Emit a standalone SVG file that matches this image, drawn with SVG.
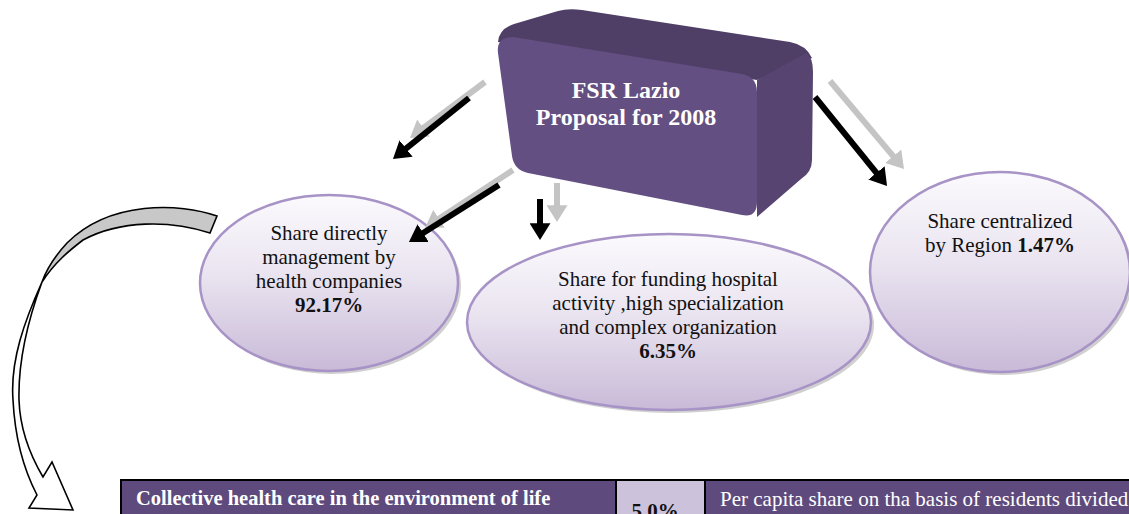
<svg xmlns="http://www.w3.org/2000/svg" width="1129" height="514" viewBox="0 0 1129 514">
  <style>
    .t { font-family: "Liberation Serif", "Times New Roman", serif; font-size: 21px; fill: #111; text-anchor: middle; }
    .b { font-weight: bold; }
    .title { font-family: "Liberation Serif", "Times New Roman", serif; font-size: 24px; font-weight: bold; fill: #ffffff; text-anchor: middle; }
    .bubble { fill: url(#bubbleFill); stroke: #a793c6; stroke-width: 2.5; }
    .shadow { fill: #a9a9a9; opacity: 0.55; }
    .blk { stroke: #000; stroke-width: 6; fill: none; marker-end: url(#headBlack); }
    .gry { stroke: #c4c4c4; stroke-width: 6; fill: none; marker-end: url(#headGrey); }
    .cellDark { fill: #5e4a7c; }
    .cellLight { fill: #cdc2dc; }
    .tw { font-family: "Liberation Serif", "Times New Roman", serif; font-size: 21px; fill: #ffffff; }
  </style>
  <defs>
    <linearGradient id="bubbleFill" x1="0" y1="0" x2="0" y2="1">
      <stop offset="0" stop-color="#fbfafd"/>
      <stop offset="0.45" stop-color="#eae4f0"/>
      <stop offset="1" stop-color="#c9bad8"/>
    </linearGradient>
    <marker id="headBlack" viewBox="0 0 8 10" refX="2" refY="5" markerWidth="2.8" markerHeight="3.5" orient="auto">
      <path d="M0,0 L8,5 L0,10 Z" fill="#000"/>
    </marker>
    <marker id="headGrey" viewBox="0 0 8 10" refX="2" refY="5" markerWidth="2.8" markerHeight="3.5" orient="auto">
      <path d="M0,0 L8,5 L0,10 Z" fill="#c4c4c4"/>
    </marker>
  </defs>

  <rect width="1129" height="514" fill="#ffffff"/>

  <!-- share managed by health companies -->
  <g id="node-health-companies">
    <ellipse class="shadow" cx="332" cy="286" rx="129" ry="88"/>
    <ellipse class="bubble" cx="329" cy="283" rx="129" ry="88"/>
    <text class="t" x="329" y="240">Share directly</text>
    <text class="t" x="329" y="264">management by</text>
    <text class="t" x="329" y="288">health companies</text>
    <text class="t b" x="329" y="312">92.17%</text>
  </g>

  <!-- share for hospital activity -->
  <g id="node-hospital">
    <ellipse class="shadow" cx="672" cy="325" rx="202" ry="88"/>
    <ellipse class="bubble" cx="669" cy="322" rx="202" ry="88"/>
    <text class="t" x="668" y="286">Share for funding hospital</text>
    <text class="t" x="668" y="310">activity ,high specialization</text>
    <text class="t" x="668" y="334">and complex organization</text>
    <text class="t b" x="668" y="358">6.35%</text>
  </g>

  <!-- share centralized by region -->
  <g id="node-region">
    <ellipse class="shadow" cx="1003" cy="275" rx="130" ry="100"/>
    <ellipse class="bubble" cx="1000" cy="272" rx="130" ry="100"/>
    <text class="t" x="1000" y="228">Share centralized</text>
    <text class="t" x="1000" y="252">by Region <tspan class="b">1.47%</tspan></text>
  </g>

  <!-- connectors: grey shadow arrows under black arrows -->
  <g id="connectors">
    <path class="gry" d="M485,82 L420.1,130.5"/>
    <path class="gry" d="M513,170 L435.5,221.1"/>
    <path class="gry" d="M557,183 L557,209.4"/>
    <path class="gry" d="M830,81 L895.9,159.4"/>
    <path class="blk" d="M469,98 L402.8,151.1"/>
    <path class="blk" d="M499,185 L419.6,235.3"/>
    <path class="blk" d="M540,199 L540,227.4"/>
    <path class="blk" d="M815,97 L879.1,176.2"/>

    <!-- curved ribbon arrow down to the table -->
    <g id="curved-arrow" stroke="#000" stroke-width="1.6" stroke-linejoin="miter">
      <path d="M42,282 C25,320 10,360 13,400 C15,440 24,470 37,495 L29,508 L73,510 L52,462 L43,477 C30,455 20,430 19,400 C18,360 28,320 42,282 Z" fill="#ffffff"/>
      <path d="M217,216 C180,203 110,200 67,243 C55,256 47,268 42,282 C55,262 70,250 83,240 C120,220 170,220 210,233 Z" fill="#c8c8c8"/>
    </g>
  </g>

  <!-- FSR Lazio block -->
  <g id="node-fsr-lazio">
    <path d="M498,42 Q499,29 514,24 L558,11 Q568,8 582,10 L790,42 Q806,45 812,58 L757,80 Z" fill="#4f3e66"/>
    <path d="M757,80 L806,53 Q813,57 813,72 L812,160 Q812,172 801,179 L757,217 Z" fill="#574470"/>
    <path d="M513,37 L742,74 Q757,77 757,92 L757,202 Q757,218 742,215 L528,173 Q514,170 512,156 L498,53 Q496,37 513,37 Z" fill="#644f83"/>
    <text class="title" x="626" y="98">FSR Lazio</text>
    <text class="title" x="626" y="125">Proposal for 2008</text>
  </g>

  <!-- table row -->
  <g id="node-table">
    <rect x="120" y="479" width="1015" height="40" fill="#000"/>
    <rect class="cellDark" x="122" y="481" width="493" height="40"/>
    <rect class="cellLight" x="617" y="481" width="87" height="40"/>
    <rect class="cellDark" x="706" y="481" width="430" height="40"/>
    <text class="tw b" x="136" y="505" style="font-size:20.5px">Collective health care in the environment of life</text>
    <text class="t b" x="655" y="518">5.0%</text>
    <text class="tw" x="720" y="506">Per capita share on tha basis of residents divided</text>
  </g>
</svg>
